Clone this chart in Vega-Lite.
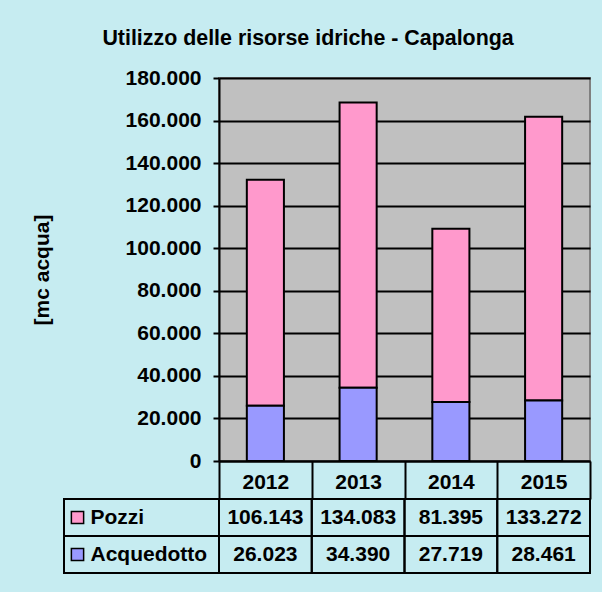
{
  "$schema": "https://vega.github.io/schema/vega-lite/v6.json",
  "background": "#c6ecf1",
  "padding": {"left": 30, "top": 27, "right": 17, "bottom": 18},
  "config": {
    "font": "Liberation Sans",
    "locale": {"number": {"decimal": ",", "thousands": ".", "grouping": [3], "currency": ["€", ""]}}
  },
  "title": {"text": "Utilizzo delle risorse idriche - Capalonga", "fontSize": 21.4, "fontWeight": "bold", "color": "black", "anchor": "middle", "offset": 17, "dx": -3},
  "datasets": {
    "acqua": [
      {"anno": "2012", "serie": "Pozzi", "valore": 106143},
      {"anno": "2012", "serie": "Acquedotto", "valore": 26023},
      {"anno": "2013", "serie": "Pozzi", "valore": 134083},
      {"anno": "2013", "serie": "Acquedotto", "valore": 34390},
      {"anno": "2014", "serie": "Pozzi", "valore": 81395},
      {"anno": "2014", "serie": "Acquedotto", "valore": 27719},
      {"anno": "2015", "serie": "Pozzi", "valore": 133272},
      {"anno": "2015", "serie": "Acquedotto", "valore": 28461}
    ]
  },
  "columns": 2,
  "spacing": {"row": 38, "column": 0},
  "bounds": "flush",
  "align": "each",
  "concat": [
    {
      "width": 155, "height": 383,
      "data": {"values": []},
      "mark": "point",
      "view": {"stroke": null, "fill": null}
    },
    {
      "width": 371, "height": 383,
      "data": {"name": "acqua"},
      "view": {"fill": "#c0c0c0", "stroke": "#808080", "strokeWidth": 2},
      "mark": {"type": "bar", "stroke": "black", "strokeWidth": 2, "width": {"band": 0.4}},
      "encoding": {
        "x": {
          "field": "anno", "type": "ordinal",
          "scale": {"paddingInner": 0, "paddingOuter": 0},
          "axis": {
            "title": null, "labelAngle": 0, "tickBand": "extent", "tickSize": 38, "tickWidth": 2, "tickColor": "black",
            "domainColor": "black", "domainWidth": 2, "labelFontSize": 21, "labelFontWeight": "bold", "labelColor": "black",
            "labelPadding": -28, "labelBaseline": "top"
          }
        },
        "y": {
          "field": "valore", "type": "quantitative",
          "scale": {"domain": [0, 180000], "nice": false},
          "axis": {
            "tickCount": 9, "format": ",d", "grid": true, "gridColor": "black", "gridWidth": 2,
            "domainColor": "black", "domainWidth": 2, "tickColor": "black", "tickWidth": 2, "tickSize": 6,
            "labelFontSize": 21, "labelFontWeight": "bold", "labelColor": "black", "labelPadding": 12,
            "labelFlush": false, "labelOverlap": false,
            "title": "[mc acqua]", "titleFontSize": 21, "titleFontWeight": "bold", "titleColor": "black", "titlePadding": 73
          }
        },
        "color": {"field": "serie", "type": "nominal", "scale": {"domain": ["Pozzi", "Acquedotto"], "range": ["#ff99cc", "#9999ff"]}, "legend": null},
        "order": {"field": "serie", "sort": "ascending"}
      }
    },
    {
      "width": 155, "height": 74,
      "data": {"name": "acqua"},
      "transform": [{"filter": "datum.anno == '2012'"}],
      "view": {"stroke": null, "fill": null},
      "encoding": {
        "y": {"field": "serie", "type": "nominal", "scale": {"domain": ["Pozzi", "Acquedotto"], "paddingInner": 0, "paddingOuter": 0}, "axis": null}
      },
      "layer": [
        {"mark": {"type": "rect", "fill": null, "stroke": "black", "strokeWidth": 2}},
        {
          "mark": {"type": "point", "shape": "square", "filled": true, "size": 150, "stroke": "black", "strokeWidth": 1.5, "xOffset": -64, "opacity": 1},
          "encoding": {"color": {"field": "serie", "type": "nominal", "scale": {"domain": ["Pozzi", "Acquedotto"], "range": ["#ff99cc", "#9999ff"]}, "legend": null}}
        },
        {
          "mark": {"type": "text", "align": "left", "dx": -51, "fontSize": 21, "fontWeight": "bold", "color": "black"},
          "encoding": {"text": {"field": "serie"}}
        }
      ]
    },
    {
      "width": 371, "height": 74,
      "data": {"name": "acqua"},
      "view": {"stroke": null, "fill": null},
      "encoding": {
        "x": {"field": "anno", "type": "ordinal", "scale": {"paddingInner": 0, "paddingOuter": 0}, "axis": null},
        "y": {"field": "serie", "type": "nominal", "scale": {"domain": ["Pozzi", "Acquedotto"], "paddingInner": 0, "paddingOuter": 0}, "axis": null}
      },
      "layer": [
        {"mark": {"type": "rect", "fill": null, "stroke": "black", "strokeWidth": 2}},
        {
          "mark": {"type": "text", "fontSize": 21, "fontWeight": "bold", "color": "black"},
          "encoding": {"text": {"field": "valore", "type": "quantitative", "format": ","}}
        }
      ]
    }
  ]
}
